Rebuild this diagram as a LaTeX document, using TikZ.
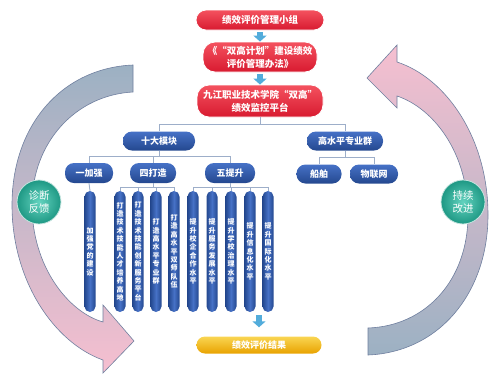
\documentclass[tikz,border=0pt]{standalone}
\usepackage{fontspec}
\setmainfont{Noto Sans CJK SC}
\usepackage{xcolor}
\usepackage{tikz}
\usetikzlibrary{arrows.meta}

\definecolor{redT}{HTML}{F4525F}
\definecolor{redB}{HTML}{D81A30}
\definecolor{blueT}{HTML}{4671C6}
\definecolor{blueB}{HTML}{24488F}
\definecolor{yelT}{HTML}{FAD552}
\definecolor{yelB}{HTML}{E8A200}
\definecolor{tealI}{HTML}{63D3BF}
\definecolor{tealO}{HTML}{1E9884}
\definecolor{linkc}{HTML}{9DAEC9}
\definecolor{flowc}{HTML}{52ACDB}
\definecolor{bandA}{HTML}{9CB1C3}
\definecolor{bandM}{HTML}{CDD5E6}
\definecolor{bandB}{HTML}{F6BFD0}
\definecolor{bandline}{HTML}{6F7F9F}

% stack the characters of #1 one below the other
\makeatletter
\newcommand\vstack[1]{\setlength\parindent{0pt}\@tfor\vch:=#1\do{\vch\par}}
\makeatother

\tikzset{
  redbox/.style={top color=redT, bottom color=redB, draw=white, line width=0.8pt,
    text=white, align=center, inner sep=2pt,
    font=\fontsize{9.5}{13}\selectfont\bfseries},
  bluebox/.style={top color=blueT, bottom color=blueB, rounded corners=9pt,
    minimum height=19pt, inner sep=2pt, text=white,
    font=\fontsize{9}{11}\selectfont\bfseries},
  pill/.style={left color=blueB, right color=blueB, middle color=blueT,
    rounded corners=5.5pt, minimum width=11pt, minimum height=121pt,
    text width=9pt, inner sep=1pt, align=center, text=white,
    font=\fontsize{7}{8.4}\selectfont\bfseries},
  yelbox/.style={top color=yelT, bottom color=yelB, rounded corners=8.5pt,
    text=white, font=\fontsize{9}{11}\selectfont\bfseries},
  ring/.style={circle, minimum size=44pt, inner color=tealI, outer color=tealO,
    draw=white!75!tealO, line width=0.8pt, text=white, align=center,
    font=\fontsize{10.5}{13}\selectfont},
  band/.style={draw=bandline, line width=0.6pt},
  link/.style={draw=linkc, line width=0.9pt},
  flow/.style={draw=flowc, line width=6pt, -{Triangle[width=13pt,length=6pt]},
    shorten <=2pt}
}

\begin{document}
\begin{tikzpicture}[x=1pt,y=-1pt]

\useasboundingbox (0,0) rectangle (490,376);

% ------------------------------------------------------
% the two big curved arrows round the chart

\draw[band, top color=bandA, middle color=bandM, bottom color=bandB]
  (133,65) .. controls (62,68) and (12,125) .. (12,205)
  .. controls (12,282) and (55,343) .. (103,360)
  -- (103,373) -- (134,341) -- (103,305) -- (103,322)
  .. controls (68,312) and (32,266) .. (32,205)
  .. controls (32,142) and (76,95) .. (133,92) -- cycle;

\draw[band, top color=bandB, middle color=bandM, bottom color=bandA]
  (368,355) .. controls (440,352) and (488,292) .. (488,215)
  .. controls (488,138) and (446,78) .. (397,62)
  -- (397,45) -- (367,78) -- (397,108) -- (397,96)
  .. controls (433,108) and (468,152) .. (468,215)
  .. controls (468,280) and (426,326) .. (368,328) -- cycle;

\node[ring] (diag) at (39,202) {诊断\\反馈};
\node[ring] (impr) at (463,202) {持续\\改进};

% ------------------------------------------------------
% management chain

\node[redbox, minimum width=128pt, minimum height=20pt, rounded corners=10pt]
  (group) at (260,20) {绩效评价管理小组};
\node[redbox, minimum width=114pt, minimum height=30pt, rounded corners=12pt]
  (rules) at (260,57) {《“双高计划”建设绩效\\评价管理办法》};
\node[redbox, minimum width=126pt, minimum height=32pt, rounded corners=12pt]
  (platform) at (260,101) {九江职业技术学院“双高”\\绩效监控平台};

\draw[flow] (group) -- (rules);
\draw[flow] (rules) -- (platform);

% ------------------------------------------------------
% modules and major groups

\node[bluebox, minimum width=72pt] (modules) at (159,141) {十大模块};
\node[bluebox, minimum width=76pt] (major) at (345,141) {高水平专业群};

\node[bluebox, minimum width=48pt, minimum height=20pt] (strong) at (89,173) {一加强};
\node[bluebox, minimum width=46pt, minimum height=20pt] (build) at (153,173) {四打造};
\node[bluebox, minimum width=50pt, minimum height=20pt] (lift) at (230,173) {五提升};

\node[bluebox, minimum width=45pt] (ship) at (319,174) {船舶};
\node[bluebox, minimum width=48pt] (iot) at (374,174) {物联网};

\draw[link] (platform.south) -- (platform.south |- 0,124);
\draw[link] (modules.north) |- (major.north |- 0,124) -- (major.north);

\draw[link] (modules.south) -- (modules.south |- 0,156);
\draw[link] (strong.north) |- (lift.north |- 0,156) -- (lift.north);
\draw[link] (build.north) -- (build.north |- 0,156);

\draw[link] (major.south) -- (major.south |- 0,157);
\draw[link] (ship.north) |- (iot.north |- 0,157) -- (iot.north);

% ------------------------------------------------------
% the ten tasks

\node[pill] (p1) at (90,251.5) {\vstack{加强党的建设}};
\node[pill] (p2) at (120,251.5) {\vstack{打造技术技能人才培养高地}};
\node[pill] (p3) at (138,251.5) {\vstack{打造技术技能创新服务平台}};
\node[pill] (p4) at (156,251.5) {\vstack{打造高水平专业群}};
\node[pill] (p5) at (174,251.5) {\vstack{打造高水平双师队伍}};
\node[pill] (p6) at (193,251.5) {\vstack{提升校企合作水平}};
\node[pill] (p7) at (212,251.5) {\vstack{提升服务发展水平}};
\node[pill] (p8) at (231,251.5) {\vstack{提升学校治理水平}};
\node[pill] (p9) at (250,251.5) {\vstack{提升信息化水平}};
\node[pill] (p10) at (268,251.5) {\vstack{提升国际化水平}};

\draw[link] (strong.south) -- (p1.north);

\draw[link] (build.south) -- (build.south |- 0,187);
\draw[link] (p2.north) |- (p5.north |- 0,187) -- (p5.north);
\foreach \p in {p3,p4}
  \draw[link] (\p.north) -- (\p.north |- 0,187);

\draw[link] (lift.south) -- (lift.south |- 0,187);
\draw[link] (p6.north) |- (p10.north |- 0,187) -- (p10.north);
\foreach \p in {p7,p8,p9}
  \draw[link] (\p.north) -- (\p.north |- 0,187);

% ------------------------------------------------------
% result

\node[yelbox, minimum width=125pt, minimum height=17pt] (result) at (259,345) {绩效评价结果};

\draw[flow, shorten <=3pt, shorten >=9pt] (result.north |- p8.south) -- (result.north);

\end{tikzpicture}
\end{document}
